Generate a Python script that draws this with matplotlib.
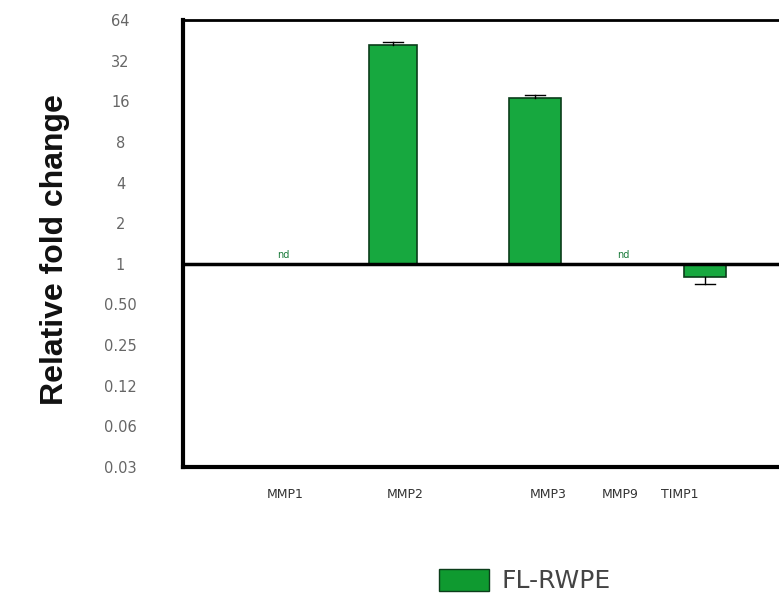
import matplotlib.pyplot as plt
from matplotlib.patches import Patch

# fold change vs control, log2 axis; nd = not detected
genes = ["MMP1", "MMP2", "MMP3", "MMP9", "TIMP1"]
fold_change = [None, 42.0, 17.0, None, 0.80]
fold_err = [None, 2.0, 0.8, None, 0.09]
y_ticks = [0.03125, 0.0625, 0.125, 0.25, 0.5, 1, 2, 4, 8, 16, 32, 64]
y_tick_labels = ["0.03", "0.06", "0.12", "0.25", "0.50", "1", "2", "4", "8", "16", "32", "64"]
legend_label = "FL-RWPE"

# horizontal layout (x units along the axis)
bar_x = [None, 210, 352, None, 522]
bar_w = [None, 48, 51, None, 43]
label_x = [102, 222, 365, 437, 497]
nd_x = [100, None, None, 440, None]

bar_color = "#17a83f"

fig = plt.figure(figsize=(7.79, 6.11), dpi=100)
ax = fig.add_axes([183 / 779, 1 - 467 / 611, 600 / 779, (467 - 20) / 611])
ax.set_yscale("log", base=2)
ax.set_ylim(0.03125, 64)
ax.set_xlim(0, 600)

for i, g in enumerate(genes):
    if fold_change[i] is None:
        ax.text(nd_x[i], 1.06, "nd", color="#1a7a3a", fontsize=7,
                ha="center", va="bottom")
        continue
    v = fold_change[i]
    ax.bar(bar_x[i], v - 1, bottom=1, width=bar_w[i], color=bar_color,
           edgecolor="#0b3d1a", linewidth=1.2, zorder=2)
    end = v + fold_err[i] if v > 1 else v - fold_err[i]
    ax.plot([bar_x[i], bar_x[i]], [v, end], color="black", lw=1, zorder=3)
    ax.plot([bar_x[i] - 10, bar_x[i] + 10], [end, end], color="black", lw=1, zorder=3)

ax.axhline(1, color="black", lw=2.5, zorder=4)

ax.set_yticks(y_ticks)
ax.set_yticklabels(y_tick_labels, color="#666666", fontsize=10.5,
                   family="DejaVu Sans")
ax.yaxis.set_minor_locator(plt.NullLocator())
ax.tick_params(axis="y", length=0, pad=45)
for lbl in ax.get_yticklabels():
    lbl.set_horizontalalignment("center")

ax.set_xticks(label_x)
ax.set_xticklabels(genes, fontsize=9, color="#333333", family="DejaVu Sans Condensed")
ax.tick_params(axis="x", length=0, pad=15)

for side in ["left", "bottom"]:
    ax.spines[side].set_linewidth(3)
ax.spines["top"].set_linewidth(2)
ax.spines["right"].set_visible(False)

fig.text(55 / 779, 1 - 250 / 611, "Relative fold change", rotation=90,
         ha="center", va="center", fontsize=23, fontweight="bold",
         family="Liberation Sans", color="#111111")

fig.legend(handles=[Patch(facecolor="#0f9a30", edgecolor="#0b3d1a", label=legend_label)],
           loc="center", bbox_to_anchor=(525 / 779, 1 - 581 / 611), frameon=False,
           fontsize=18, handlelength=2.0, handleheight=1.0, handletextpad=0.5,
           labelcolor="#444444")

fig.savefig("out.png", dpi=100)
